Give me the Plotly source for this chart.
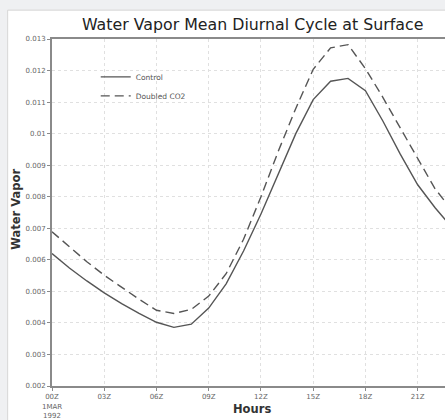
import plotly.graph_objects as go

hours = list(range(0, 25))
control = [0.00620, 0.00574, 0.00533, 0.00495, 0.00461, 0.00430, 0.00402, 0.00386,
           0.00396, 0.00447, 0.00524, 0.00628, 0.00745, 0.00870, 0.01000, 0.01108,
           0.01166, 0.01175, 0.01136, 0.01040, 0.00935, 0.00838, 0.00765, 0.00700, 0.00640]
doubled = [0.00689, 0.00640, 0.00594, 0.00551, 0.00513, 0.00475, 0.00440, 0.00430,
           0.00443, 0.00485, 0.00556, 0.00665, 0.00800, 0.00945, 0.01080, 0.01204,
           0.01272, 0.01282, 0.01206, 0.01115, 0.01018, 0.00920, 0.00825, 0.00755, 0.00695]
series_names = ["Control", "Doubled CO2"]
x_tickvals = [0, 3, 6, 9, 12, 15, 18, 21]
x_ticktext = ["00Z<br>1MAR<br>1992", "03Z", "06Z", "09Z", "12Z", "15Z", "18Z", "21Z"]
y_tickvals = [0.002, 0.003, 0.004, 0.005, 0.006, 0.007, 0.008, 0.009, 0.010, 0.011, 0.012, 0.013]
y_ticktext = ["0.002", "0.003", "0.004", "0.005", "0.006", "0.007", "0.008", "0.009",
              "0.01", "0.011", "0.012", "0.013"]

line_col = "#555555"
fig = go.Figure()
fig.add_trace(go.Scatter(x=hours, y=control, mode="lines", name=series_names[0],
                         line=dict(color=line_col, width=1.4)))
fig.add_trace(go.Scatter(x=hours, y=doubled, mode="lines", name=series_names[1],
                         line=dict(color=line_col, width=1.4, dash="9px,5px")))

W, H = 445, 420
L, T, B = 52.3, 39.3, 28.3
pw = W - L
ph = H - T - B

def px_x(p):
    return (p - L) / pw

def px_y(p):
    return (H - B - p) / ph

fig.update_layout(
    width=W, height=H,
    margin=dict(l=L, r=0, t=T, b=B, pad=0),
    paper_bgcolor="#eff0f2",
    plot_bgcolor="white",
    font=dict(family="DejaVu Sans", color="#555555"),
    showlegend=True,
    legend=dict(x=px_x(96), y=px_y(63), xanchor="left", yanchor="top",
                bgcolor="rgba(0,0,0,0)", font=dict(size=7.5, color="#555555"),
                itemwidth=30, tracegroupgap=0),
    xaxis=dict(range=[0, (W - L) / 17.4], tickvals=x_tickvals, ticktext=x_ticktext,
               showgrid=True, gridcolor="#e0e0e0", griddash="dot", gridwidth=1,
               showline=True, linecolor="#8a8a8a", linewidth=2, mirror=True,
               ticks="outside", ticklen=3, tickcolor="#8a8a8a",
               tickfont=dict(size=7, color="#666666"), zeroline=False),
    yaxis=dict(range=[0.002, 0.013], tickvals=y_tickvals, ticktext=y_ticktext,
               showgrid=True, gridcolor="#e0e0e0", griddash="dot", gridwidth=1,
               showline=True, linecolor="#8a8a8a", linewidth=2, mirror=False,
               ticks="outside", ticklen=3, tickcolor="#8a8a8a",
               tickfont=dict(size=7, color="#666666"), zeroline=False),
    shapes=[dict(type="rect", xref="paper", yref="paper", layer="below",
                 x0=px_x(8), x1=px_x(W + 20), y0=px_y(H + 20), y1=px_y(10),
                 fillcolor="white", line=dict(color="#d6d6d6", width=1))],
    annotations=[
        dict(text="Water Vapor Mean Diurnal Cycle at Surface", xref="paper", yref="paper",
             x=px_x(252.7), y=px_y(25), xanchor="center", yanchor="middle", showarrow=False,
             font=dict(size=15.8, color="#222222", family="DejaVu Sans")),
        dict(text="<b>Water Vapor</b>", xref="paper", yref="paper", textangle=-90,
             x=px_x(16), y=px_y(212), xanchor="center", yanchor="middle", showarrow=False,
             font=dict(size=11.5, color="#333333", family="DejaVu Sans")),
        dict(text="<b>Hours</b>", xref="paper", yref="paper",
             x=px_x(252), y=px_y(415), xanchor="center", yanchor="middle", showarrow=False,
             font=dict(size=11.5, color="#333333", family="DejaVu Sans")),
    ],
)

fig.write_html("out.html")
